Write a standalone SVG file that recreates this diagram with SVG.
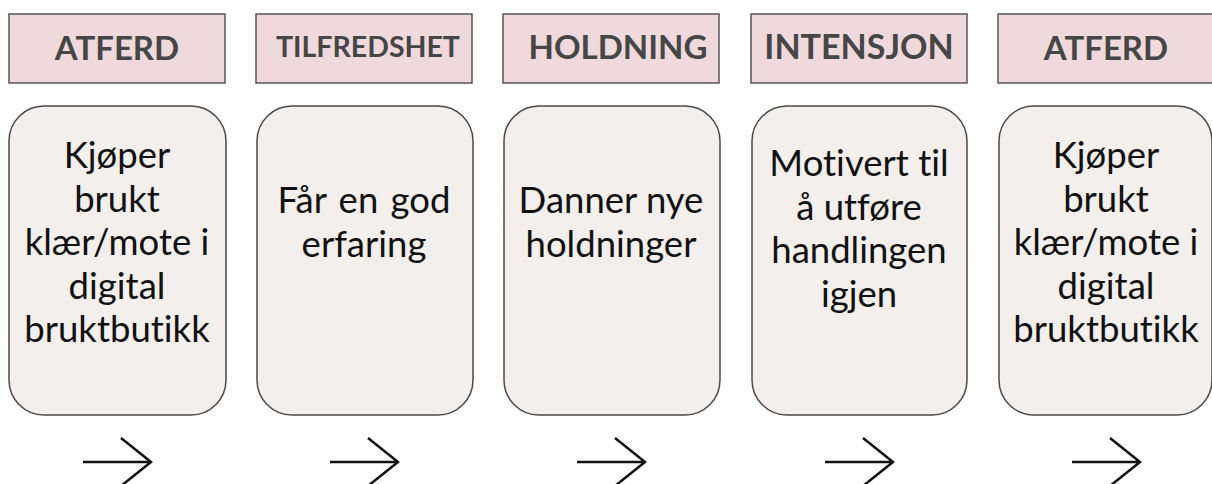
<svg xmlns="http://www.w3.org/2000/svg" width="1212" height="484" viewBox="0 0 1212 484">
<style>
.hdr{fill:#efd9dc;stroke:#555;stroke-width:1.5}
.htx{font-family:Lato,"Liberation Sans",sans-serif;font-weight:700;fill:#464646;text-anchor:middle}
.card{fill:#f2efec;stroke:#4a4a4a;stroke-width:1.5}
.btx{font-family:Lato,"Liberation Sans",sans-serif;font-weight:400;font-size:36.5px;fill:#111;text-anchor:middle;font-variant-ligatures:none;font-feature-settings:"liga" 0,"dlig" 0}
.arr{fill:none;stroke:#111;stroke-width:2.5;stroke-linecap:butt;stroke-linejoin:miter}
</style>
<rect width="1212" height="484" fill="#fff"/>
<g id="node1">
<rect class="hdr" x="9" y="14" width="216" height="69"/>
<text class="htx" x="117" y="60" font-size="33">ATFERD</text>
<rect class="card" x="9" y="106" width="217" height="309" rx="35"/>
<text class="btx" x="117" y="168">Kjøper</text>
<text class="btx" x="117" y="211.5">brukt</text>
<text class="btx" x="117" y="255">klær/mote i</text>
<text class="btx" x="117" y="298.5">digital</text>
<text class="btx" x="117" y="342">bruktbutikk</text>
</g>
<g id="node2">
<rect class="hdr" x="256" y="14" width="216" height="69"/>
<text class="htx" x="368" y="57" font-size="28.5">TILFREDSHET</text>
<rect class="card" x="257" y="106" width="216" height="309" rx="35"/>
<text class="btx" x="364" y="212.5" word-spacing="3">Får en god</text>
<text class="btx" x="364" y="256.5">erfaring</text>
</g>
<g id="node3">
<rect class="hdr" x="503" y="14" width="216" height="69"/>
<text class="htx" x="618" y="59" font-size="33">HOLDNING</text>
<rect class="card" x="504" y="106" width="216" height="309" rx="35"/>
<text class="btx" x="611" y="212.5">Danner nye</text>
<text class="btx" x="611" y="256.5">holdninger</text>
</g>
<g id="node4">
<rect class="hdr" x="751" y="14" width="216" height="69"/>
<text class="htx" x="859" y="59" font-size="34">INTENSJON</text>
<rect class="card" x="752" y="106" width="215" height="309" rx="35"/>
<text class="btx" x="859" y="176">Motivert til</text>
<text class="btx" x="859" y="219.5">å utføre</text>
<text class="btx" x="859" y="263">handlingen</text>
<text class="btx" x="859" y="306.5">igjen</text>
</g>
<g id="node5">
<rect class="hdr" x="998" y="14" width="218" height="69"/>
<text class="htx" x="1106" y="60" font-size="33">ATFERD</text>
<rect class="card" x="999" y="106" width="213" height="309" rx="35"/>
<text class="btx" x="1106" y="168">Kjøper</text>
<text class="btx" x="1106" y="211.5">brukt</text>
<text class="btx" x="1106" y="255">klær/mote i</text>
<text class="btx" x="1106" y="298.5">digital</text>
<text class="btx" x="1106" y="342">bruktbutikk</text>
</g>
<g id="connectors">
<path class="arr" d="M83 462H151M121 438L151 462L121 486"/>
<path class="arr" d="M330 462H398M368 438L398 462L368 486"/>
<path class="arr" d="M577 462H645M615 438L645 462L615 486"/>
<path class="arr" d="M825 462H893M863 438L893 462L863 486"/>
<path class="arr" d="M1072 462H1140M1110 438L1140 462L1110 486"/>
</g>
</svg>
